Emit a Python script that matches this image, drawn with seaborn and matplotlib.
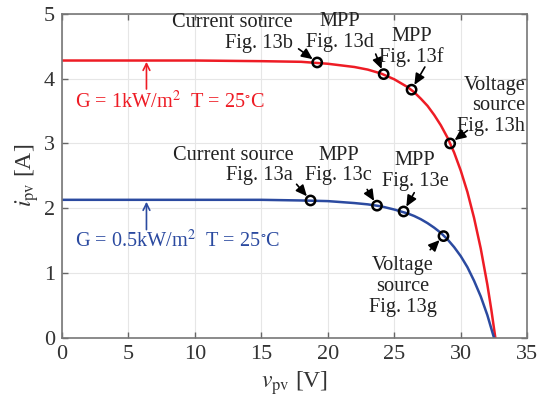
# PV 모듈 I-V 곡선 (G = 1, 0.5 kW/m2) 과 동작점 표시
import matplotlib
matplotlib.use('Agg')
import matplotlib.pyplot as plt
import pandas as pd
import seaborn as sns

# 그림에서 읽은 값
v_g1 = [0, 5, 10, 15, 18, 20, 22, 23, 24, 25, 26, 26.5, 27, 27.5, 28, 28.5, 29, 29.5, 30, 30.5, 31, 31.5, 32, 32.3, 32.6]
i_g1 = [4.28, 4.28, 4.28, 4.27, 4.26, 4.23, 4.18, 4.14, 4.08, 3.99, 3.87, 3.79, 3.69, 3.58, 3.44, 3.28, 3.09, 2.86, 2.58, 2.25, 1.85, 1.38, 0.82, 0.43, 0.0]
v_g05 = [0, 5, 10, 15, 18, 20, 22, 23, 24, 25, 26, 26.5, 27, 27.5, 28, 28.5, 29, 29.5, 30, 30.5, 31, 31.5, 32, 32.5]
i_g05 = [2.13, 2.13, 2.13, 2.13, 2.12, 2.11, 2.08, 2.06, 2.03, 1.98, 1.92, 1.88, 1.83, 1.77, 1.70, 1.62, 1.52, 1.40, 1.26, 1.09, 0.88, 0.64, 0.35, 0.0]

# 동작점 (Fig. 13a~h)
pt_v = [19.2, 24.2, 26.3, 29.2, 18.7, 23.7, 25.7, 28.7]
pt_i = [4.25, 4.07, 3.83, 3.00, 2.12, 2.04, 1.95, 1.57]
pt_text = ['Current source\nFig. 13b', 'MPP\nFig. 13d', 'MPP\nFig. 13f', 'Voltage\nsource\nFig. 13h',
           'Current source\nFig. 13a', 'MPP\nFig. 13c', 'MPP\nFig. 13e', 'Voltage\nsource\nFig. 13g']
text_xy = [(17.35, 4.71), (20.9, 4.72), (26.3, 4.49), (34.85, 3.58),
           (17.4, 2.66), (20.8, 2.66), (26.55, 2.58), (25.65, 0.79)]
text_ha = ['right', 'center', 'center', 'right', 'right', 'center', 'center', 'center']
arrow_tail = [(17.8, 4.46), (23.6, 4.38), (27.3, 4.18), (30.5, 3.20),
              (17.65, 2.37), (22.96, 2.29), (26.5, 2.24), (27.7, 1.36)]

red = '#ee1c25'
blue = '#2b4aa0'

df1 = pd.DataFrame({'v': v_g1, 'i': i_g1})
df2 = pd.DataFrame({'v': v_g05, 'i': i_g05})
pts = pd.DataFrame({'v': pt_v, 'i': pt_i})

sns.set_theme(style='whitegrid')
plt.rcParams['font.family'] = 'serif'
plt.rcParams['font.serif'] = ['Liberation Serif', 'DejaVu Serif']
plt.rcParams['mathtext.fontset'] = 'stix'

fig = plt.figure(figsize=(5.43, 4.08), dpi=100)
ax = fig.add_axes([0.114, 0.172, 0.857, 0.794])

sns.lineplot(data=df1, x='v', y='i', color=red, linewidth=1.8, ax=ax, sort=False)
sns.lineplot(data=df2, x='v', y='i', color=blue, linewidth=1.8, ax=ax, sort=False)
sns.scatterplot(data=pts, x='v', y='i', s=45, facecolor='none', edgecolor='black', linewidth=1.8, ax=ax, zorder=5)

for k in range(len(pt_v)):
    ax.text(text_xy[k][0], text_xy[k][1], pt_text[k], ha=text_ha[k], va='center',
            multialignment=text_ha[k], fontsize=14.7, color='#222222', linespacing=1.12)
    ax.annotate('', xy=(pt_v[k], pt_i[k]), xytext=arrow_tail[k],
                arrowprops=dict(arrowstyle='-|>,head_length=0.55,head_width=0.25', color='black',
                                lw=1.2, shrinkA=0, shrinkB=4))

# 조건 라벨
ax.text(0.97, 3.64, 'G = 1kW/m$^2$  T = 25$^{\\circ}$C', color=red, fontsize=14.6, va='center')
ax.text(0.97, 1.49, 'G = 0.5kW/m$^2$  T = 25$^{\\circ}$C', color=blue, fontsize=14.6, va='center')
ax.annotate('', xy=(6.36, 4.26), xytext=(6.36, 3.84),
            arrowprops=dict(arrowstyle='->,head_length=0.4,head_width=0.2', color=red, lw=1.2, shrinkA=0, shrinkB=0))
ax.annotate('', xy=(6.36, 2.10), xytext=(6.36, 1.67),
            arrowprops=dict(arrowstyle='->,head_length=0.4,head_width=0.2', color=blue, lw=1.2, shrinkA=0, shrinkB=0))

ax.set_xlim(0, 35)
ax.set_ylim(0, 5)
ax.set_xticks(range(0, 36, 5))
ax.set_yticks(range(0, 6))
ax.set_xlabel('$v_{\\rm pv}$ [V]', fontsize=17, color='#333333', labelpad=4)
ax.set_ylabel('$i_{\\rm pv}$ [A]', fontsize=17, color='#333333', labelpad=2)
ax.tick_params(direction='in', length=4, width=1, colors='#333333', labelsize=16,
               top=True, right=True, bottom=True, left=True, pad=5)
ax.tick_params(axis='both', color='#666666')
ax.grid(True, color='#e6e6e6', linewidth=0.8)
for s in ax.spines.values():
    s.set_color('#777777')
    s.set_linewidth(1.2)

plt.savefig('out.png', dpi=100)
